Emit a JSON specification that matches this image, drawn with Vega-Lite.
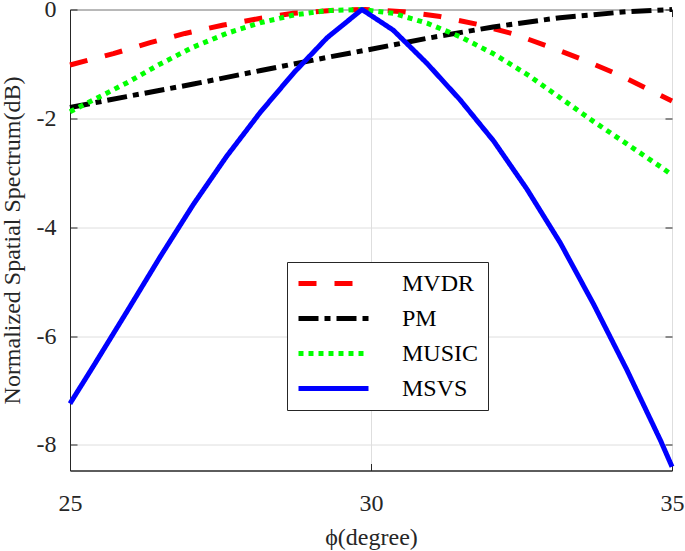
{
  "$schema": "https://vega.github.io/schema/vega-lite/v6.json",
  "width": 602,
  "height": 461,
  "autosize": {"type": "none"},
  "padding": {"left": 70, "top": 9.5, "right": 13, "bottom": 80.5},
  "background": "white",
  "config": {
    "font": "Liberation Serif, Times New Roman, DejaVu Serif, serif",
    "view": {"stroke": "#262626", "strokeWidth": 1},
    "axis": {
      "labelFont": "Liberation Serif, Times New Roman, DejaVu Serif, serif",
      "labelFontSize": 24,
      "labelColor": "#262626",
      "titleFont": "Liberation Serif, Times New Roman, DejaVu Serif, serif",
      "titleFontSize": 24,
      "titleFontWeight": "normal",
      "titleColor": "#262626",
      "gridColor": "#dedede",
      "gridWidth": 1,
      "domainColor": "#262626",
      "tickColor": "#262626",
      "tickSize": -7,
      "tickWidth": 1,
      "labelFlush": false
    }
  },
  "data": {
    "values": [
      {"x": 25, "y": -1.02, "s": "MVDR"},
      {"x": 25.72, "y": -0.81, "s": "MVDR"},
      {"x": 26.33, "y": -0.61, "s": "MVDR"},
      {"x": 26.91, "y": -0.44, "s": "MVDR"},
      {"x": 27.55, "y": -0.285, "s": "MVDR"},
      {"x": 28.17, "y": -0.16, "s": "MVDR"},
      {"x": 28.71, "y": -0.07, "s": "MVDR"},
      {"x": 29.44, "y": -0.01, "s": "MVDR"},
      {"x": 29.9, "y": 0, "s": "MVDR"},
      {"x": 30.54, "y": -0.04, "s": "MVDR"},
      {"x": 31.15, "y": -0.13, "s": "MVDR"},
      {"x": 31.76, "y": -0.27, "s": "MVDR"},
      {"x": 32.37, "y": -0.45, "s": "MVDR"},
      {"x": 32.95, "y": -0.68, "s": "MVDR"},
      {"x": 33.54, "y": -0.93, "s": "MVDR"},
      {"x": 34.12, "y": -1.2, "s": "MVDR"},
      {"x": 34.69, "y": -1.51, "s": "MVDR"},
      {"x": 35, "y": -1.68, "s": "MVDR"},

      {"x": 25, "y": -1.8, "s": "PM"},
      {"x": 25.94, "y": -1.6, "s": "PM"},
      {"x": 27.05, "y": -1.37, "s": "PM"},
      {"x": 28.17, "y": -1.12, "s": "PM"},
      {"x": 29.27, "y": -0.88, "s": "PM"},
      {"x": 30, "y": -0.73, "s": "PM"},
      {"x": 30.93, "y": -0.53, "s": "PM"},
      {"x": 32.03, "y": -0.32, "s": "PM"},
      {"x": 33.14, "y": -0.15, "s": "PM"},
      {"x": 34.25, "y": -0.04, "s": "PM"},
      {"x": 35, "y": 0, "s": "PM"},

      {"x": 25, "y": -1.88, "s": "MUSIC"},
      {"x": 25.39, "y": -1.66, "s": "MUSIC"},
      {"x": 25.94, "y": -1.35, "s": "MUSIC"},
      {"x": 26.5, "y": -1.0, "s": "MUSIC"},
      {"x": 27.05, "y": -0.69, "s": "MUSIC"},
      {"x": 27.6, "y": -0.44, "s": "MUSIC"},
      {"x": 28.17, "y": -0.24, "s": "MUSIC"},
      {"x": 28.72, "y": -0.1, "s": "MUSIC"},
      {"x": 29.27, "y": -0.02, "s": "MUSIC"},
      {"x": 29.85, "y": 0, "s": "MUSIC"},
      {"x": 30.37, "y": -0.07, "s": "MUSIC"},
      {"x": 30.93, "y": -0.25, "s": "MUSIC"},
      {"x": 31.48, "y": -0.5, "s": "MUSIC"},
      {"x": 32.03, "y": -0.81, "s": "MUSIC"},
      {"x": 32.59, "y": -1.19, "s": "MUSIC"},
      {"x": 33.14, "y": -1.62, "s": "MUSIC"},
      {"x": 33.7, "y": -2.06, "s": "MUSIC"},
      {"x": 34.25, "y": -2.47, "s": "MUSIC"},
      {"x": 34.81, "y": -2.89, "s": "MUSIC"},
      {"x": 35, "y": -3.04, "s": "MUSIC"},

      {"x": 25, "y": -7.24, "s": "MSVS"},
      {"x": 25.39, "y": -6.55, "s": "MSVS"},
      {"x": 25.94, "y": -5.56, "s": "MSVS"},
      {"x": 26.5, "y": -4.54, "s": "MSVS"},
      {"x": 27.05, "y": -3.58, "s": "MSVS"},
      {"x": 27.6, "y": -2.7, "s": "MSVS"},
      {"x": 28.16, "y": -1.89, "s": "MSVS"},
      {"x": 28.72, "y": -1.16, "s": "MSVS"},
      {"x": 29.27, "y": -0.52, "s": "MSVS"},
      {"x": 29.85, "y": 0, "s": "MSVS"},
      {"x": 30.37, "y": -0.38, "s": "MSVS"},
      {"x": 30.93, "y": -0.99, "s": "MSVS"},
      {"x": 31.48, "y": -1.66, "s": "MSVS"},
      {"x": 32.04, "y": -2.42, "s": "MSVS"},
      {"x": 32.59, "y": -3.3, "s": "MSVS"},
      {"x": 33.14, "y": -4.28, "s": "MSVS"},
      {"x": 33.7, "y": -5.42, "s": "MSVS"},
      {"x": 34.25, "y": -6.62, "s": "MSVS"},
      {"x": 34.81, "y": -7.92, "s": "MSVS"},
      {"x": 35, "y": -8.4, "s": "MSVS"}
    ]
  },
  "layer": [
    {
      "mark": {"type": "line", "strokeWidth": 5, "strokeCap": "butt", "strokeJoin": "round"},
      "encoding": {
        "x": {
          "field": "x", "type": "quantitative",
          "scale": {"domain": [25, 35], "nice": false, "zero": false},
          "axis": {
            "values": [25, 30, 35], "labelExpr": "'' + datum.value",
            "title": "ϕ(degree)",
            "labelPadding": 28,
            "titleX": 301, "titleY": 67, "titleBaseline": "middle", "titleAlign": "center"
          }
        },
        "y": {
          "field": "y", "type": "quantitative",
          "scale": {"domain": [-8.47, 0], "nice": false, "zero": false},
          "axis": {
            "values": [0, -2, -4, -6, -8], "labelExpr": "'' + datum.value",
            "title": "Normalized Spatial Spectrum(dB)",
            "labelPadding": 21,
            "titleX": -58, "titleY": 230.5, "titleAngle": 270, "titleBaseline": "middle", "titleAlign": "center"
          }
        },
        "color": {
          "field": "s", "type": "nominal",
          "scale": {"domain": ["MVDR", "PM", "MUSIC", "MSVS"], "range": ["#ff0000", "#000000", "#00ff00", "#0000ff"]},
          "legend": {
            "title": null, "orient": "none", "legendX": 217, "legendY": 252.5,
            "symbolType": "M-3.5,0H3.5", "symbolSize": 400, "symbolStrokeWidth": 5, "symbolOffset": 25,
            "labelOffset": 56, "labelFont": "Liberation Serif, Times New Roman, DejaVu Serif, serif", "labelFontSize": 24, "labelColor": "#000000",
            "rowPadding": 10, "padding": 9, "strokeColor": "#262626", "fillColor": "white", "labelLimit": 300
          }
        },
        "strokeDash": {
          "field": "s", "type": "nominal",
          "scale": {"domain": ["MVDR", "PM", "MUSIC", "MSVS"], "range": [[18, 18], [20, 6, 6, 6], [5, 5], [1, 0]]},
          "legend": {
            "title": null, "orient": "none", "legendX": 217, "legendY": 252.5,
            "symbolType": "M-3.5,0H3.5", "symbolSize": 400, "symbolStrokeWidth": 5, "symbolOffset": 25,
            "labelOffset": 56, "labelFont": "Liberation Serif, Times New Roman, DejaVu Serif, serif", "labelFontSize": 24, "labelColor": "#000000",
            "rowPadding": 10, "padding": 9, "strokeColor": "#262626", "fillColor": "white", "labelLimit": 300
          }
        }
      }
    },
    {
      "mark": {"type": "line", "opacity": 0},
      "encoding": {
        "x": {"field": "x", "type": "quantitative", "axis": {"orient": "top", "values": [25, 30, 35], "labels": false, "grid": false, "domain": false, "title": null}},
        "y": {"field": "y", "type": "quantitative", "axis": {"orient": "right", "values": [0, -2, -4, -6, -8], "labels": false, "grid": false, "domain": false, "title": null}},
        "detail": {"field": "s"}
      }
    }
  ],
  "resolve": {"axis": {"x": "independent", "y": "independent"}}
}
